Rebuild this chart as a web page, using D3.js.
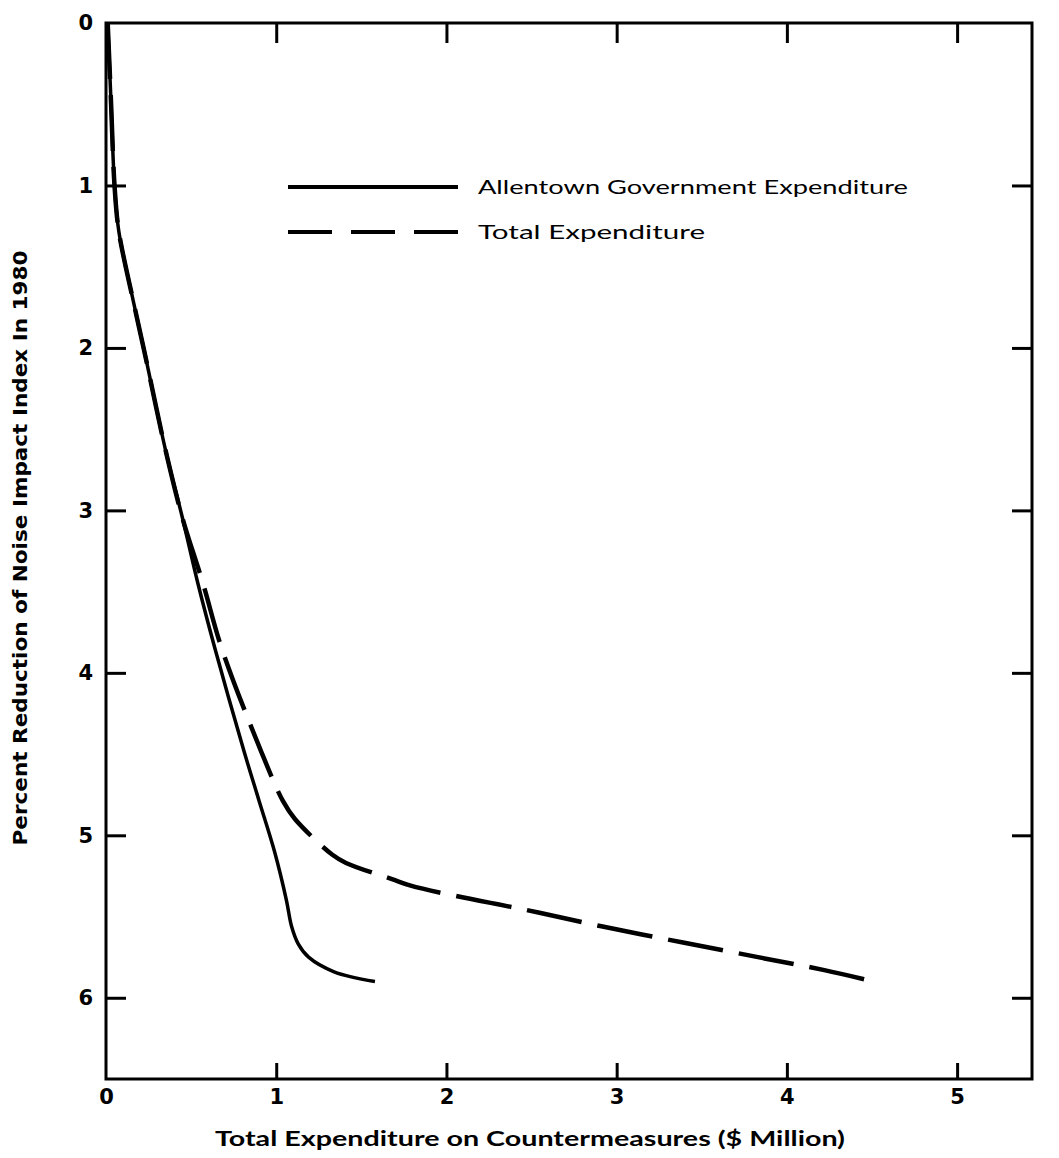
<!DOCTYPE html>
<html>
<head>
<meta charset="utf-8">
<script src="https://cdn.jsdelivr.net/npm/d3@7"></script>
<style>
  body { margin: 0; background: #fff; }
  svg { display: block; }
</style>
</head>
<body>
<svg id="chart"></svg>
<script>
// Allentown government expenditure curve (x: $ million, y: percent reduction)
var allentownX = [0.01, 0.03, 0.05, 0.075, 0.16, 0.225, 0.35, 0.45, 0.54, 0.64, 0.81, 0.90, 0.99, 1.06, 1.09, 1.13, 1.19, 1.34, 1.58];
var allentownY = [0, 0.5, 1.0, 1.28, 1.71, 2.02, 2.63, 3.05, 3.45, 3.85, 4.48, 4.79, 5.10, 5.40, 5.56, 5.67, 5.75, 5.84, 5.90];

// Total expenditure curve
var totalX = [0.01, 0.03, 0.05, 0.075, 0.16, 0.225, 0.35, 0.45, 0.57, 0.68, 0.91, 1.04, 1.11, 1.33, 1.41, 1.68, 1.79, 2.04, 2.47, 2.91, 3.39, 3.83, 4.22, 4.51];
var totalY = [0, 0.5, 1.0, 1.28, 1.71, 2.02, 2.63, 3.05, 3.45, 3.85, 4.48, 4.79, 4.90, 5.12, 5.17, 5.27, 5.31, 5.37, 5.46, 5.56, 5.66, 5.75, 5.83, 5.90];

var xTicks = [0, 1, 2, 3, 4, 5];
var yTicks = [0, 1, 2, 3, 4, 5, 6];
var legendLabels = ["Allentown Government Expenditure", "Total Expenditure"];
var xTitle = "Total Expenditure on Countermeasures ($ Million)";
var yTitle = "Percent Reduction of Noise Impact Index In 1980";

const width = 1059;
const height = 1158;
const marginLeft = 106, marginRight = 27, marginTop = 23, marginBottom = 79;
const xMax = 5.44, yMax = 6.5;

const x = d3.scaleLinear([0, xMax], [marginLeft, width - marginRight]);
const y = d3.scaleLinear([0, yMax], [marginTop, height - marginBottom]);

var svg = d3.select("#chart")
    .attr("width", width)
    .attr("height", height)
    .attr("viewBox", [0, 0, width, height]);

var tickFont = "'DejaVu Sans', sans-serif";

// frame
svg.append("rect")
    .attr("x", x(0)).attr("y", y(0))
    .attr("width", x(xMax) - x(0)).attr("height", y(yMax) - y(0))
    .attr("fill", "none").attr("stroke", "#000").attr("stroke-width", 3);

function styleAxis(g) {
    g.select(".domain").remove();
    g.selectAll(".tick line").attr("stroke", "#000").attr("stroke-width", 3);
    g.selectAll(".tick text").attr("fill", "#000")
        .attr("font-family", tickFont).attr("font-weight", "bold").attr("font-size", 21);
}

function dropZeroTick(g) {
    g.selectAll(".tick").filter(function(d) { return d === 0; }).select("line").remove();
}

// bottom axis, ticks pointing in
svg.append("g")
    .attr("transform", "translate(0," + y(yMax) + ")")
    .call(d3.axisBottom(x).tickValues(xTicks).tickFormat(d3.format("d")).tickSizeInner(-16).tickSizeOuter(0).tickPadding(10))
    .call(styleAxis)
    .call(dropZeroTick);

// top axis, ticks only
svg.append("g")
    .attr("transform", "translate(0," + y(0) + ")")
    .call(d3.axisTop(x).tickValues(xTicks.slice(1)).tickFormat("").tickSizeInner(-20).tickSizeOuter(0))
    .call(styleAxis);

// left axis
svg.append("g")
    .attr("transform", "translate(" + x(0) + ",0)")
    .call(d3.axisLeft(y).tickValues(yTicks).tickFormat(d3.format("d")).tickSizeInner(-20).tickSizeOuter(0).tickPadding(13))
    .call(styleAxis)
    .call(dropZeroTick);

// right axis, ticks only
svg.append("g")
    .attr("transform", "translate(" + x(xMax) + ",0)")
    .call(d3.axisRight(y).tickValues(yTicks.slice(1)).tickFormat("").tickSizeInner(-20).tickSizeOuter(0))
    .call(styleAxis);

var line = d3.line()
    .x(function(d) { return x(d[0]); })
    .y(function(d) { return y(d[1]); })
    .curve(d3.curveCatmullRom.alpha(0.5));

svg.append("path")
    .datum(d3.zip(totalX, totalY))
    .attr("d", line)
    .attr("fill", "none").attr("stroke", "#000").attr("stroke-width", 4.5)
    .attr("stroke-dasharray", "56,16");

svg.append("path")
    .datum(d3.zip(allentownX, allentownY))
    .attr("d", line)
    .attr("fill", "none").attr("stroke", "#000").attr("stroke-width", 3.5);

// legend
var legend = svg.append("g");
legend.append("line").attr("x1", 288).attr("x2", 458).attr("y1", 187).attr("y2", 187)
    .attr("stroke", "#000").attr("stroke-width", 4);
legend.append("line").attr("x1", 288).attr("x2", 458).attr("y1", 232).attr("y2", 232)
    .attr("stroke", "#000").attr("stroke-width", 4).attr("stroke-dasharray", "44,19");
legend.selectAll("text").data(legendLabels).join("text")
    .attr("x", 478)
    .attr("y", function(d, i) { return 194 + i * 45; })
    .attr("font-family", "Lato, sans-serif").attr("font-size", 20)
    .attr("textLength", function(d, i) { return i === 0 ? 430 : 227; })
    .attr("lengthAdjust", "spacingAndGlyphs")
    .text(function(d) { return d; });

// axis titles
svg.append("text")
    .attr("x", 530).attr("y", 1146)
    .attr("text-anchor", "middle")
    .attr("font-family", "Lato, sans-serif").attr("font-size", 20).attr("font-weight", "bold")
    .attr("textLength", 630).attr("lengthAdjust", "spacingAndGlyphs")
    .text(xTitle);

svg.append("text")
    .attr("transform", "translate(27,548) rotate(-90)")
    .attr("text-anchor", "middle")
    .attr("font-family", "'DejaVu Sans Condensed', 'DejaVu Sans', sans-serif").attr("font-size", 20).attr("font-weight", "bold")
    .attr("textLength", 595).attr("lengthAdjust", "spacingAndGlyphs")
    .text(yTitle);
</script>
</body>
</html>
